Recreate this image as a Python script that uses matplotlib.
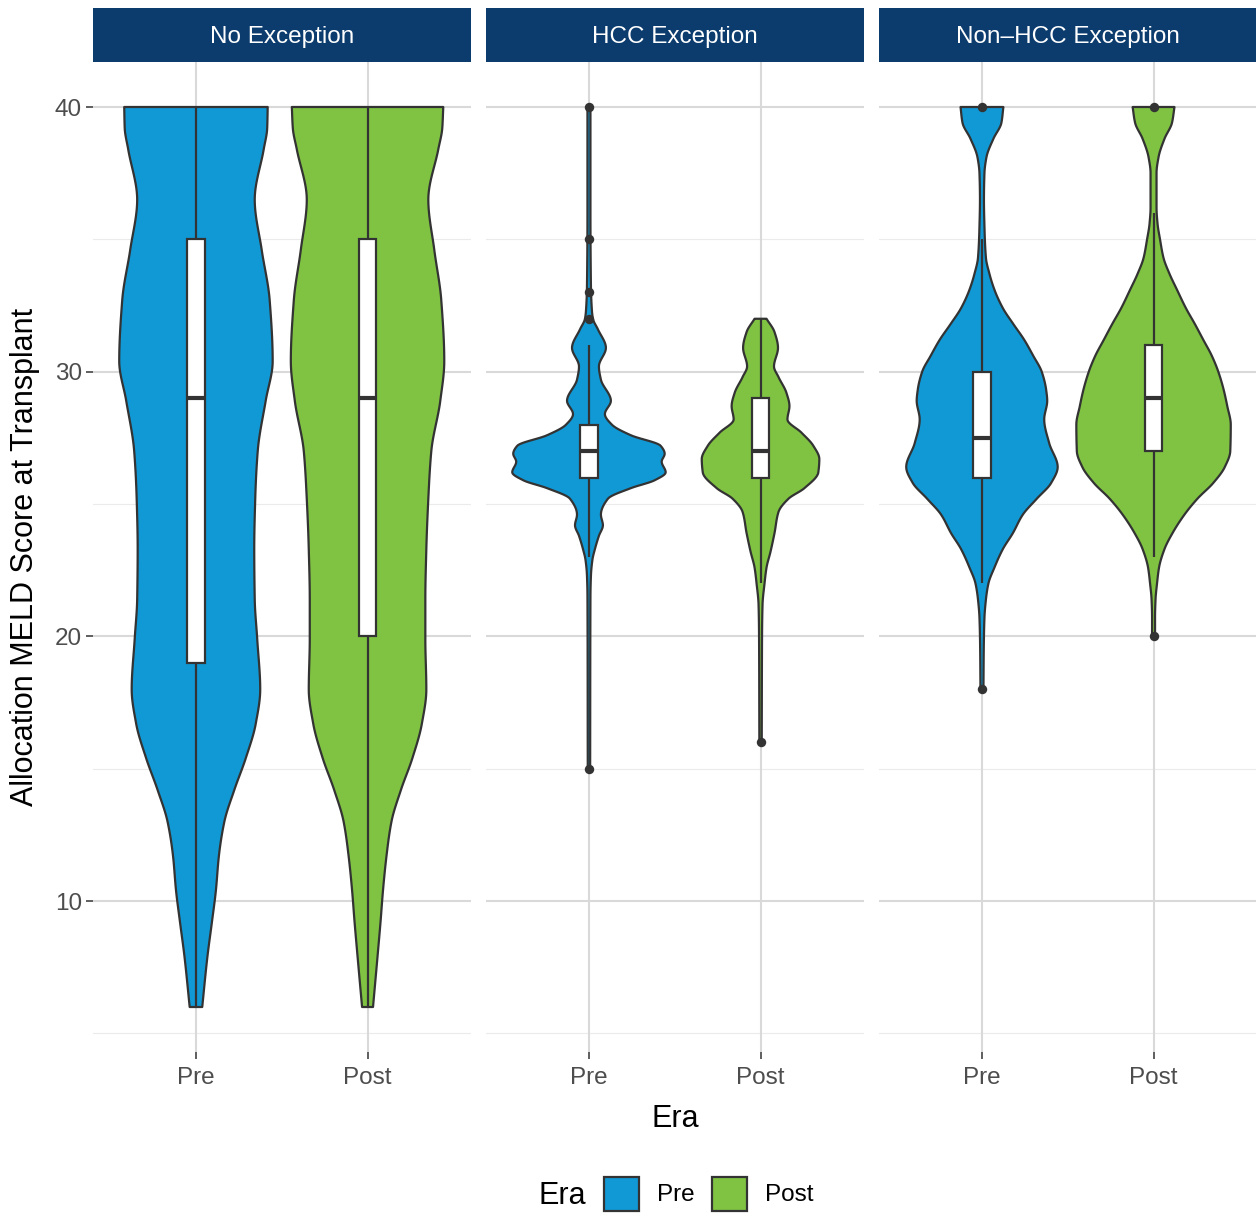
import numpy as np
import matplotlib
matplotlib.use("Agg")
import matplotlib.pyplot as plt
from matplotlib.patches import Rectangle, Polygon

plt.rcParams['font.family'] = ['Liberation Sans', 'DejaVu Sans']

# ---------------- data ----------------
facets = ["No Exception", "HCC Exception", "Non\u2013HCC Exception"]
eras = ["Pre", "Post"]
y_ticks = [10, 20, 30, 40]

# violin density profiles (score level, relative density)
noexc_pre_y = [40, 39.2, 38.4, 36.5, 34.6, 32.7, 30.4, 28.9, 27.0, 25.2, 23.3, 21.4, 19.9, 18.0, 16.7, 15.4, 14.2, 13.0, 11.7, 10.4, 9.2, 7.9, 6.0]
noexc_pre_d = [72, 71.5, 68, 59, 66, 74, 77, 70, 62, 59.5, 58.5, 59, 61.5, 64.5, 60, 50, 38.5, 28.5, 23, 20, 16, 11.5, 6.3]
noexc_post_y = [40, 39.2, 38.4, 36.5, 34.6, 32.7, 30.4, 28.9, 27.0, 25.2, 23.3, 21.4, 19.9, 18.0, 16.7, 15.4, 14.2, 13.0, 11.7, 10.4, 9.2, 7.9, 6.0]
noexc_post_d = [76, 75, 71, 61, 67, 74, 77, 73, 64, 61, 59, 58, 58, 59, 54.5, 45, 33.5, 24, 19, 15.5, 13, 10, 5.5]

hcc_pre_y = [40, 36, 33.2, 32.3, 32.0, 31.6, 30.9, 30.2, 29.7, 28.9, 28.4, 28.0, 27.6, 27.2, 26.9, 26.6, 26.2, 25.9, 25.6, 25.2, 24.6, 24.2, 23.8, 23.3, 22.9, 22.3, 21.5, 15]
hcc_pre_d = [1.5, 1.5, 2, 3, 4, 9, 17, 10, 12, 22, 16, 23, 42, 72, 76, 73, 77, 66, 42, 19, 12, 14, 10, 6, 3.5, 2, 1.5, 1.2]
hcc_post_y = [32, 31.5, 30.9, 30.2, 29.8, 29.2, 28.7, 28.2, 27.7, 27.2, 26.7, 26.2, 25.6, 25.2, 24.7, 23.9, 23.2, 22.6, 22.0, 21.2, 20.0, 16.0]
hcc_post_d = [6, 14, 17.5, 13.5, 18, 26, 29, 27, 41, 53, 59, 58, 44, 28, 18, 14, 10, 6, 4, 2, 1.5, 1.2]

non_pre_y = [40, 39.4, 38.8, 38.1, 37.5, 36.5, 35.5, 34.3, 33.7, 33.1, 32.4, 31.8, 31.2, 30.6, 30.0, 29.3, 28.9, 28.2, 27.3, 26.4, 25.8, 25.2, 24.6, 23.9, 23.3, 22.6, 22.0, 21.4, 20.7, 19.5, 18]
non_pre_d = [21.5, 19.5, 11.5, 4.5, 2.5, 2, 2.5, 4, 7.5, 12.5, 21, 31.5, 42.5, 51.5, 60, 64.5, 65.5, 62.5, 67.5, 76, 69.5, 55, 41, 31, 21, 12.5, 6.5, 4, 2.5, 1.8, 1.5]
non_post_y = [40, 39.4, 38.8, 38.1, 37.5, 36.2, 35.6, 35.0, 34.3, 33.7, 33.1, 32.4, 31.8, 31.2, 30.6, 30.0, 29.3, 28.7, 28.0, 27.0, 26.4, 25.8, 25.2, 24.6, 23.9, 23.3, 22.6, 22.0, 21.4, 20.7, 20]
non_post_d = [21, 18.5, 11, 5, 3, 3, 4, 6.5, 10, 16, 23.5, 32.5, 41.5, 50, 58.5, 65, 70.5, 74, 77.5, 77, 71.5, 60, 44, 31, 19, 11, 5.5, 3.5, 2, 1.5, 1.5]

# boxplot stats: lower whisker, q1, median, q3, upper whisker
noexc_pre_box = [6, 19, 29, 35, 40]
noexc_post_box = [6, 20, 29, 35, 40]
hcc_pre_box = [23, 26, 27, 28, 31]
hcc_post_box = [22, 26, 27, 29, 32]
non_pre_box = [22, 26, 27.5, 30, 35]
non_post_box = [23, 27, 29, 31, 36]

noexc_pre_out = []
noexc_post_out = []
hcc_pre_out = [15, 32, 33, 35, 40]
hcc_post_out = [16]
non_pre_out = [18, 40]
non_post_out = [20, 40]

violins = [
    [(noexc_pre_y, noexc_pre_d), (noexc_post_y, noexc_post_d)],
    [(hcc_pre_y, hcc_pre_d), (hcc_post_y, hcc_post_d)],
    [(non_pre_y, non_pre_d), (non_post_y, non_post_d)],
]
boxes = [[noexc_pre_box, noexc_post_box], [hcc_pre_box, hcc_post_box], [non_pre_box, non_post_box]]
outs = [[noexc_pre_out, noexc_post_out], [hcc_pre_out, hcc_post_out], [non_pre_out, non_post_out]]

colors = {"Pre": "#1199D6", "Post": "#80C342"}
edge = "#333333"


def pchip(x, y, xn):
    x = np.asarray(x, float); y = np.asarray(y, float)
    h = np.diff(x); d = np.diff(y) / h
    n = len(x); m = np.zeros(n)
    for k in range(1, n - 1):
        if d[k - 1] * d[k] > 0:
            w1 = 2 * h[k] + h[k - 1]; w2 = h[k] + 2 * h[k - 1]
            m[k] = (w1 + w2) / (w1 / d[k - 1] + w2 / d[k])
    m[0] = d[0]; m[-1] = d[-1]
    idx = np.clip(np.searchsorted(x, xn) - 1, 0, n - 2)
    t = (xn - x[idx]) / h[idx]
    h00 = 2 * t**3 - 3 * t**2 + 1; h10 = t**3 - 2 * t**2 + t
    h01 = -2 * t**3 + 3 * t**2; h11 = t**3 - t**2
    return h00 * y[idx] + h10 * h[idx] * m[idx] + h01 * y[idx + 1] + h11 * h[idx] * m[idx + 1]


dmax = max(max(d) for pair in violins for (_, d) in pair)
half_width = 0.45

W, H = 1256, 1213
fig = plt.figure(figsize=(W / 100, H / 100), dpi=100)

panel_left = [93, 486, 879]
panel_w = 377.5
p_top, p_bot = 62, 1052
ylim = (4.3, 41.7)
LW = 1.6

for fi, name in enumerate(facets):
    ax = fig.add_axes([panel_left[fi] / W, (H - p_bot) / H, panel_w / W, (p_bot - p_top) / H])
    ax.set_xlim(-0.6, 1.6)
    ax.set_ylim(*ylim)
    for s in ax.spines.values():
        s.set_visible(False)
    # grid
    for yv in [5, 15, 25, 35]:
        ax.axhline(yv, color="#EBEBEB", lw=0.8, zorder=0)
    for yv in y_ticks:
        ax.axhline(yv, color="#D9D9D9", lw=1.5, zorder=0)
    for xv in range(len(eras)):
        ax.axvline(xv, color="#D9D9D9", lw=1.5, zorder=0)

    for ei, era in enumerate(eras):
        yy, dd = violins[fi][ei]
        order = np.argsort(yy)
        ys = np.asarray(yy, float)[order]
        ds = np.asarray(dd, float)[order]
        yn = np.linspace(ys[0], ys[-1], 600)
        hw = np.clip(pchip(ys, ds, yn), 0.5, None) / dmax * half_width
        xs = np.concatenate([ei - hw, (ei + hw)[::-1]])
        yv = np.concatenate([yn, yn[::-1]])
        ax.add_patch(Polygon(np.column_stack([xs, yv]), closed=True,
                             facecolor=colors[era], edgecolor=edge, lw=LW, zorder=2,
                             joinstyle="round"))
        lo, q1, med, q3, hi = boxes[fi][ei]
        bw = 0.05
        ax.plot([ei, ei], [lo, q1], color=edge, lw=LW, zorder=3, solid_capstyle="butt")
        ax.plot([ei, ei], [q3, hi], color=edge, lw=LW, zorder=3, solid_capstyle="butt")
        ax.add_patch(Rectangle((ei - bw, q1), 2 * bw, q3 - q1, facecolor="white",
                               edgecolor=edge, lw=LW, zorder=4))
        ax.plot([ei - bw, ei + bw], [med, med], color=edge, lw=3.0, zorder=5,
                solid_capstyle="butt")
        o = outs[fi][ei]
        if o:
            ax.plot([ei] * len(o), o, "o", color=edge, ms=6.8, mew=0, zorder=6)

    ax.set_xticks(range(len(eras)))
    ax.set_xticklabels(eras, fontsize=17.5, color="#4D4D4D")
    ax.tick_params(axis="x", length=5, width=1.1, color=edge, pad=6)
    if fi == 0:
        ax.set_yticks(y_ticks)
        ax.set_yticklabels([str(v) for v in y_ticks], fontsize=17.5, color="#4D4D4D")
        ax.tick_params(axis="y", length=5, width=1.1, color=edge, pad=3)
    else:
        ax.set_yticks([])

    # strip
    sax = fig.add_axes([panel_left[fi] / W, (H - 62) / H, panel_w / W, 54 / H])
    sax.set_xlim(0, 1); sax.set_ylim(0, 1)
    sax.axis("off")
    sax.add_patch(Rectangle((0, 0), 1, 1, facecolor="#0C3C6E", edgecolor="none"))
    sax.text(0.5, 0.46, name, color="white", fontsize=17.5, ha="center", va="center")

# axis titles
fig.text(25 / W, 1 - 557 / H, "Allocation MELD Score at Transplant", rotation=90,
         fontsize=22, ha="center", va="center", color="black")
fig.text(675 / W, 1 - 1119 / H, "Era", fontsize=22, ha="center", va="center", color="black")

# legend
lax = fig.add_axes([0, 0, 1, 1], facecolor="none")
lax.set_xlim(0, W); lax.set_ylim(H, 0); lax.axis("off")
lax.text(562, 1196, "Era", fontsize=22, ha="center", va="center")
key_x = [604, 712]
for era, kx in zip(eras, key_x):
    lax.add_patch(Rectangle((kx, 1177), 35, 34, facecolor=colors[era], edgecolor=edge, lw=LW))
    lax.text(kx + 53, 1195, era, fontsize=17.5, ha="left", va="center")

fig.savefig("out.png", dpi=100)
